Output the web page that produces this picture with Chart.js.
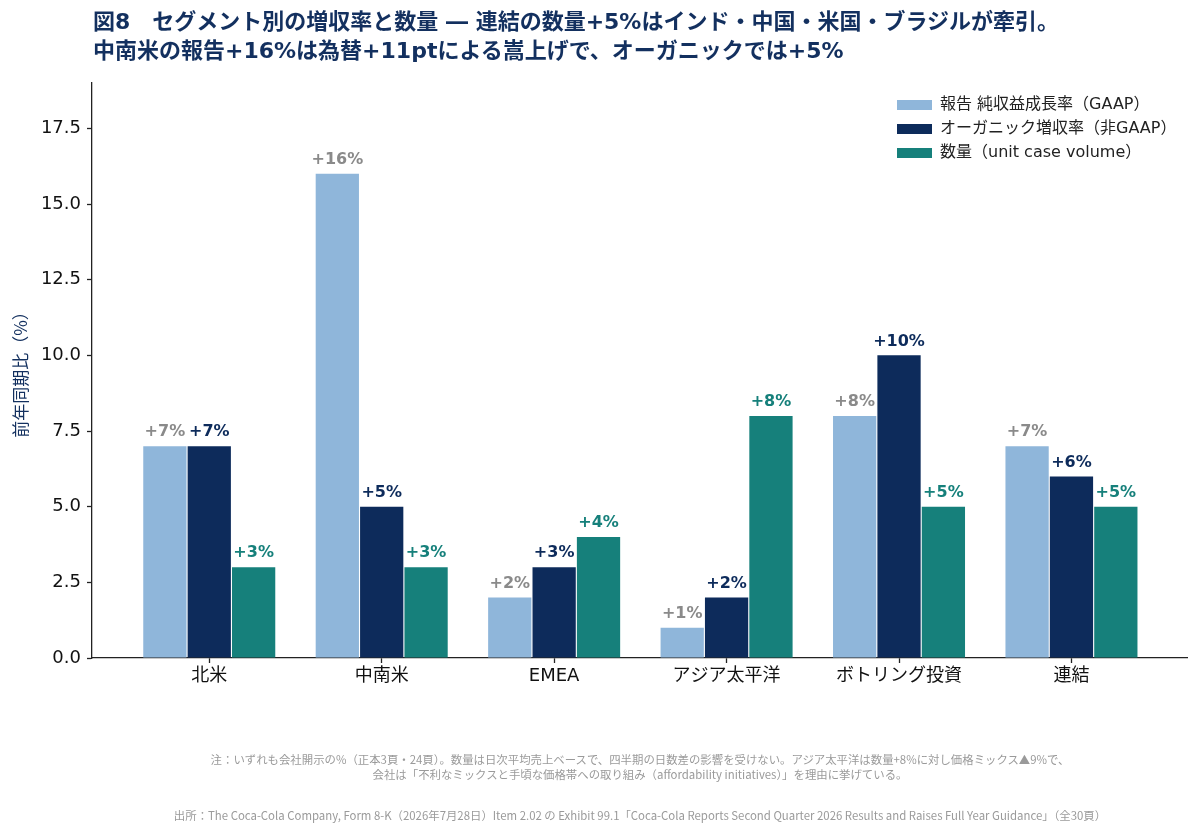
<!DOCTYPE html>
<html lang="ja">
<head>
<meta charset="utf-8">
<script src="https://cdn.jsdelivr.net/npm/chart.js@4.4.1/dist/chart.umd.min.js"></script>
<style>
  html, body { margin: 0; padding: 0; background: #fff; }
  #wrap { position: relative; width: 1200px; height: 835px; overflow: hidden; }
  #grafico { position: absolute; left: 0; top: 0; }
  .titulo {
    position: absolute; left: 93px; top: 7px;
    font-family: "DejaVu Sans", "Noto Sans CJK JP", sans-serif; font-weight: 700;
    font-size: 22px; line-height: 29px; color: #13305f; white-space: nowrap;
  }
  .nota {
    position: absolute; left: 140px; width: 1000px; text-align: center;
    font-family: "Noto Sans CJK JP", sans-serif; font-size: 11.4px;
    line-height: 15px; color: #9a9a9a; white-space: nowrap;
  }
</style>
</head>
<body>
<div id="wrap">
  <canvas id="grafico" width="1200" height="835"></canvas>
  <div class="titulo">図8　セグメント別の増収率と数量 ― 連結の数量+5%はインド・中国・米国・ブラジルが牽引。<br>中南米の報告+16%は為替+11ptによる嵩上げで、オーガニックでは+5%</div>
  <div class="nota" style="top:752px;">注：いずれも会社開示の%（正本3頁・24頁）。数量は日次平均売上ベースで、四半期の日数差の影響を受けない。アジア太平洋は数量+8%に対し価格ミックス▲9%で、<br>会社は「不利なミックスと手頃な価格帯への取り組み（affordability initiatives）」を理由に挙げている。</div>
  <div class="nota" style="top:808px;">出所：The Coca-Cola Company, Form 8-K（2026年7月28日）Item 2.02 の Exhibit 99.1「Coca-Cola Reports Second Quarter 2026 Results and Raises Full Year Guidance」（全30頁）</div>
</div>
<script>
// セグメント
const segmentos = ["北米", "中南米", "EMEA", "アジア太平洋", "ボトリング投資", "連結"];

// 系列（前年同期比 %）
const reportado = [7, 16, 2, 1, 8, 7];
const organico = [7, 5, 3, 2, 10, 6];
const volume = [3, 3, 4, 8, 5, 5];

const rotulos = ["報告 純収益成長率（GAAP）", "オーガニック増収率（非GAAP）", "数量（unit case volume）"];
const cores = ["#8fb6da", "#0d2b5b", "#16807b"];
const coresTexto = ["#8a8a8a", "#0d2b5b", "#16807b"];

const yTicks = [0, 2.5, 5, 7.5, 10, 12.5, 15, 17.5];

const fonteBase = '"DejaVu Sans", "Noto Sans CJK JP", sans-serif';

function paraPontos(valores) {
  return valores.map((v, i) => ({ x: i, y: v }));
}

// rótulos "+7%" em cima das barras
const pluginRotulos = {
  id: "rotulos",
  afterDatasetsDraw(chart) {
    const ctx = chart.ctx;
    ctx.save();
    ctx.textAlign = "center";
    ctx.textBaseline = "bottom";
    ctx.font = "bold 16px " + fonteBase;
    chart.data.datasets.forEach((ds, di) => {
      const meta = chart.getDatasetMeta(di);
      ctx.fillStyle = coresTexto[di];
      meta.data.forEach((bar, i) => {
        ctx.fillText("+" + ds.data[i].y + "%", bar.x, bar.y - 6);
      });
    });
    ctx.restore();
  },
};

// legenda dentro da área do gráfico (canto superior direito)
const pluginLegenda = {
  id: "legendaCustom",
  afterDraw(chart) {
    const ctx = chart.ctx;
    ctx.save();
    ctx.font = "16px " + fonteBase;
    ctx.textBaseline = "middle";
    chart.data.datasets.forEach((ds, di) => {
      const y = 105 + di * 24;
      ctx.fillStyle = ds.backgroundColor;
      ctx.fillRect(897, y - 5, 35, 10);
      ctx.fillStyle = "#222";
      ctx.fillText(ds.label, 940, y);
    });
    ctx.restore();
  },
};

const ctx = document.getElementById("grafico").getContext("2d");

new Chart(ctx, {
  type: "bar",
  data: {
    datasets: [
      { label: rotulos[0], data: paraPontos(reportado), backgroundColor: cores[0] },
      { label: rotulos[1], data: paraPontos(organico), backgroundColor: cores[1] },
      { label: rotulos[2], data: paraPontos(volume), backgroundColor: cores[2] },
    ],
  },
  options: {
    responsive: false,
    animation: false,
    devicePixelRatio: 1,
    categoryPercentage: 0.772,
    barPercentage: 0.975,
    layout: { padding: { left: 0, right: 13, top: 83, bottom: 0 } },
    plugins: {
      legend: { display: false },
      tooltip: { enabled: false },
    },
    scales: {
      x: {
        type: "linear",
        offset: false,
        min: -0.68,
        max: 5.67,
        afterBuildTicks: (scale) => {
          scale.ticks = segmentos.map((s, i) => ({ value: i }));
        },
        afterFit: (scale) => {
          scale.height = 177;
        },
        ticks: {
          callback: (v) => segmentos[v],
          color: "#111",
          font: { family: fonteBase, size: 18 },
          padding: 3,
        },
        grid: {
          offset: false,
          drawOnChartArea: false,
          drawTicks: true,
          tickLength: 5,
          color: "#222",
          tickWidth: 1.3,
        },
        border: { color: "#222", width: 1.3 },
      },
      y: {
        min: 0,
        max: 19,
        afterBuildTicks: (scale) => {
          scale.ticks = yTicks.map((v) => ({ value: v }));
        },
        afterFit: (scale) => {
          scale.width = 92;
        },
        ticks: {
          callback: (v) => v.toFixed(1),
          color: "#111",
          font: { family: fonteBase, size: 18 },
          padding: 6,
        },
        grid: {
          drawOnChartArea: false,
          drawTicks: true,
          tickLength: 5,
          color: "#222",
          tickWidth: 1.3,
        },
        border: { color: "#222", width: 1.3 },
        title: {
          display: true,
          text: "前年同期比（%）",
          color: "#13305f",
          font: { family: '"Noto Sans CJK JP", sans-serif', size: 17 },
          padding: { top: 10, bottom: 0 },
        },
      },
    },
  },
  plugins: [pluginRotulos, pluginLegenda],
});
</script>
</body>
</html>
